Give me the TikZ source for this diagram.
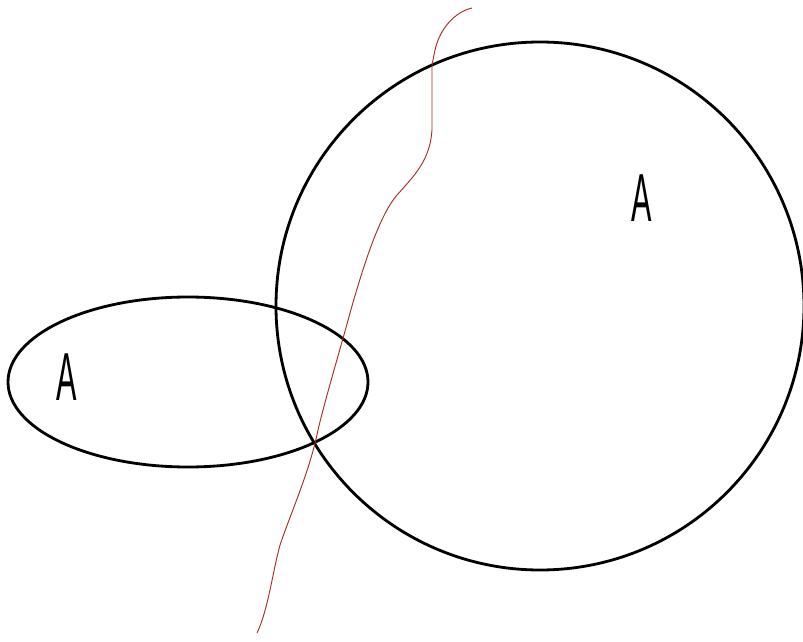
\documentclass[tikz,border=0pt]{standalone}
\usepackage{fontspec}
\setmainfont{Liberation Sans}
\usepackage{tikz}
\definecolor{CutRed}{RGB}{170,45,35}

\begin{document}
\begin{tikzpicture}[x=0.03cm,y=-0.03cm]
        \useasboundingbox (0,0) rectangle (803,642);
        \tikzset{setline/.style={line width=2.4pt, black},
                 setlabel/.style={font=\fontsize{58}{58}\selectfont, xscale=0.45, inner sep=0pt}}
        % the two sets
        \draw[setline] (540,306) circle [radius=264];
        \draw[setline] (188,382) ellipse [x radius=180, y radius=85];
        \node[setlabel] (smallA) at (67,377) {A};
        \node[setlabel] (bigA) at (642,198) {A};
        % the cut
        \draw[CutRed, line width=0.8pt] (472,8) .. controls (455,12) and (440,28) .. (435,50)
          -- (432,65) -- (432,130) .. controls (430,160) and (415,175) .. (397,195)
          .. controls (380,215) and (365,260) .. (350,313)
          .. controls (340,350) and (325,400) .. (318,430)
          .. controls (310,470) and (292,510) .. (280,545)
          .. controls (272,575) and (268,610) .. (257,633);
      \end{tikzpicture}
\end{document}
